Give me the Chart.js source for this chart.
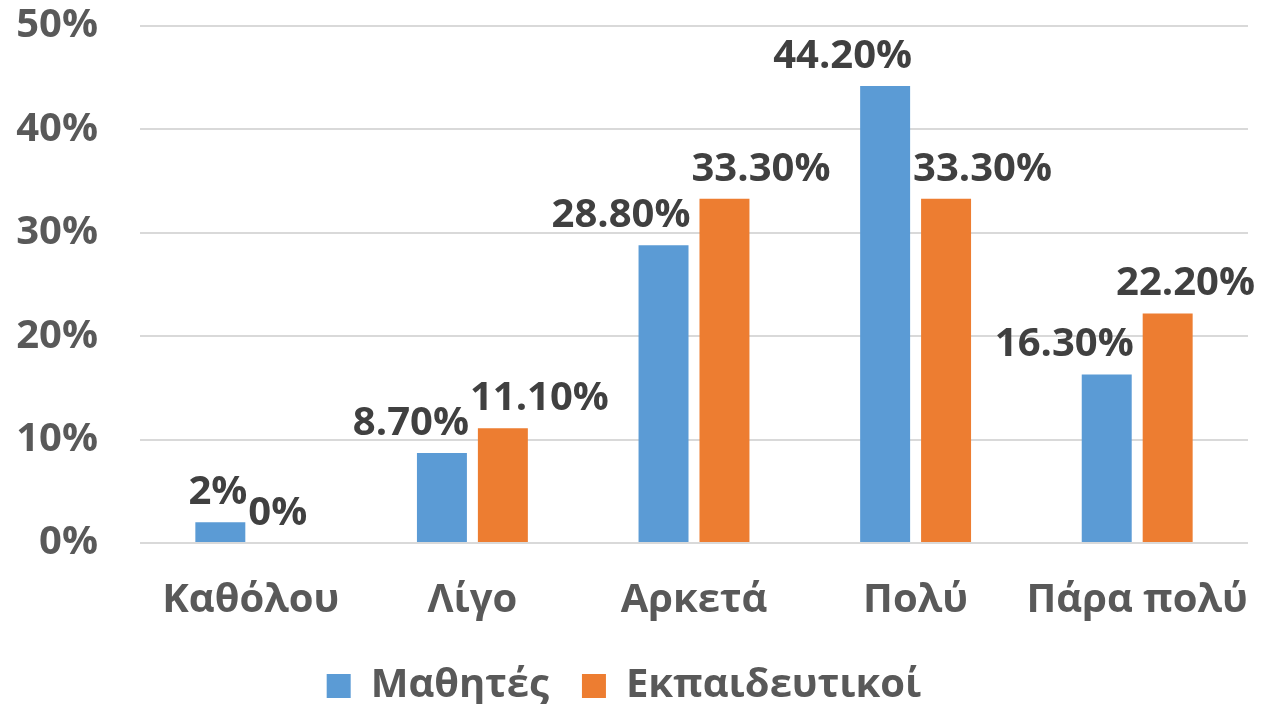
<!DOCTYPE html>
<html>
<head>
<meta charset="utf-8">
<script src="https://cdn.jsdelivr.net/npm/chart.js@4/dist/chart.umd.min.js"></script>
<style>
body { margin: 0; background: #fff; }
#wrap { width: 1263px; height: 704px; }
</style>
</head>
<body>
<div id="wrap"><canvas id="mybargraph"></canvas></div>
<script>
// data
const categories = ['Καθόλου', 'Λίγο', 'Αρκετά', 'Πολύ', 'Πάρα πολύ']
const students = [2, 8.7, 28.8, 44.2, 16.3]
const teachers = [0, 11.1, 33.3, 33.3, 22.2]
const studentLabels = ['2%', '8.70%', '28.80%', '44.20%', '16.30%']
const teacherLabels = ['0%', '11.10%', '33.30%', '33.30%', '22.20%']
const yTicks = [0, 10, 20, 30, 40, 50]

const fontFamily = "'Open Sans', sans-serif"

// value labels above bars: blue ones hug the bar's right edge, orange ones its left edge
const barLabels = {
    id: 'barLabels',
    afterDatasetsDraw(chart) {
        const ctx = chart.ctx
        ctx.save()
        ctx.font = "bold 40px " + fontFamily
        ctx.fillStyle = '#404040'
        ctx.textBaseline = 'alphabetic'
        ctx.textAlign = 'left'
        chart.data.datasets.forEach(function(ds, i) {
            const meta = chart.getDatasetMeta(i)
            meta.data.forEach(function(bar, j) {
                const text = ds.valueLabels[j]
                const w = ctx.measureText(text).width
                let x
                if (i == 0) {
                    x = bar.x + bar.width / 2 + 2 - w
                } else {
                    x = bar.x - bar.width / 2 - 8
                }
                // keep inside the canvas
                if (x + w > chart.width - 8) x = chart.width - 8 - w
                ctx.fillText(text, x, bar.y - 18)
            })
        })
        ctx.restore()
    }
}

new Chart(document.getElementById('mybargraph'), {
    type: 'bar',
    data: {
        labels: categories,
        datasets: [{
            label: 'Μαθητές',
            data: students,
            valueLabels: studentLabels,
            backgroundColor: '#5B9BD5',
            borderWidth: 0,
            categoryPercentage: 0.55,
            barPercentage: 0.82
        }, {
            label: 'Εκπαιδευτικοί',
            data: teachers,
            valueLabels: teacherLabels,
            backgroundColor: '#ED7D31',
            borderWidth: 0,
            categoryPercentage: 0.55,
            barPercentage: 0.82
        }]
    },
    options: {
        responsive: true,
        maintainAspectRatio: false,
        animation: false,
        layout: { padding: { top: 26, right: 15, left: 0, bottom: -12 } },
        plugins: {
            tooltip: { enabled: false },
            legend: {
                position: 'bottom',
                labels: {
                    color: '#595959',
                    font: { family: fontFamily, size: 40, weight: 'bold' },
                    boxWidth: 24,
                    boxHeight: 24,
                    padding: 33
                }
            }
        },
        scales: {
            x: {
                grid: { display: false },
                border: { display: false },
                ticks: {
                    color: '#595959',
                    font: { family: fontFamily, size: 40, weight: 'bold' },
                    padding: 26,
                    autoSkip: false,
                    maxRotation: 0,
                    minRotation: 0
                },
                afterFit: function(scale) {
                    scale.height = 90
                    scale.paddingLeft = 0
                    scale.paddingRight = 0
                }
            },
            y: {
                min: 0,
                max: 50,
                afterBuildTicks: function(scale) {
                    scale.ticks = yTicks.map(v => ({ value: v }))
                },
                grid: { color: '#D9D9D9', lineWidth: 2, drawTicks: false },
                border: { display: false },
                ticks: {
                    color: '#595959',
                    font: { family: fontFamily, size: 40, weight: 'bold' },
                    padding: 42,
                    callback: v => v + '%'
                },
                afterFit: function(scale) {
                    scale.width = 140
                    scale.paddingTop = 0
                    scale.paddingBottom = 0
                }
            }
        }
    },
    plugins: [barLabels]
})
</script>
</body>
</html>
